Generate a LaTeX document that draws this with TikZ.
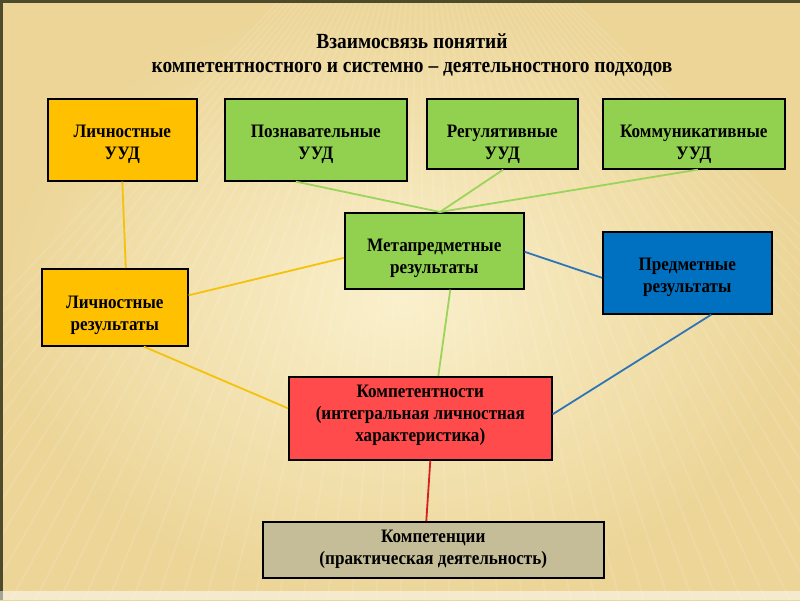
\documentclass[tikz,border=0pt]{standalone}
\usepackage{fontspec}
\setmainfont{Liberation Serif}[FakeStretch=0.9]
\usetikzlibrary{calc}
\begin{document}
\begin{tikzpicture}[x=1pt,y=-1pt,
  box/.style={draw=black,line width=1.6pt,minimum width=#1,inner sep=0pt,anchor=north west},
  txt/.style={align=center,inner sep=0pt,font=\fontsize{19}{22}\selectfont\bfseries},
  link/.style={line width=1.8pt}]
\definecolor{bgin}{HTML}{FAF0CC}
\definecolor{bgout}{HTML}{ECD597}
\definecolor{cyel}{HTML}{FFC000}
\definecolor{cgrn}{HTML}{92D050}
\definecolor{cblu}{HTML}{0070C0}
\definecolor{cred}{HTML}{FF4B4B}
\definecolor{ckha}{HTML}{C4BD97}
\definecolor{lyel}{HTML}{F4C20A}
\definecolor{lgrn}{HTML}{9BD45A}
\definecolor{lblu}{HTML}{2E75B6}
\definecolor{lred}{HTML}{D42020}
\definecolor{frame}{HTML}{4E4A2C}
\useasboundingbox (0,0) rectangle (800,600);
\shade[inner color=bgin,outer color=bgout] (0,0) rectangle (800,600);
\foreach \i in {0,...,60}{
  \draw[white,opacity=0.10,line width=2pt] (420,-150) -- ({-300+\i*25},620);
}
\fill[frame] (0,0) rectangle (800,3);
\fill[frame] (0,0) rectangle (2.5,600);
\fill[white,opacity=0.5] (0,591) rectangle (800,600);

\node (title) at (412,55) [align=center,font=\fontsize{21.6}{24}\selectfont\bfseries]
  {Взаимосвязь понятий\\компетентностного и системно – деятельностного подходов};

\node (luud) [box=149pt,minimum height=82pt,fill=cyel] at (47,98) {};
\node (puud) [box=182pt,minimum height=82pt,fill=cgrn] at (224,98) {};
\node (ruud) [box=151pt,minimum height=70pt,fill=cgrn] at (426,98) {};
\node (kuud) [box=182pt,minimum height=70pt,fill=cgrn] at (602,98) {};
\node (meta) [box=179pt,minimum height=76pt,fill=cgrn] at (344,212) {};
\node (pred) [box=169pt,minimum height=82pt,fill=cblu] at (602,231) {};
\node (lres) [box=146pt,minimum height=77pt,fill=cyel] at (41,268) {};
\node (komp) [box=263pt,minimum height=83pt,fill=cred] at (288,376) {};
\node (kmpc) [box=341pt,minimum height=56pt,fill=ckha] at (262,521) {};

\node (luudt) [txt] at ($(luud.center)+(0,5)$) {Личностные\\УУД};
\node (puudt) [txt] at ($(puud.center)+(0,5)$) {Познавательные\\УУД};
\node (ruudt) [txt] at ($(ruud.center)+(0,11)$) {Регулятивные\\УУД};
\node (kuudt) [txt] at ($(kuud.center)+(0,11)$) {Коммуникативные\\УУД};
\node (metat) [txt] at ($(meta.center)+(0,8)$) {Метапредметные\\результаты};
\node (predt) [txt] at ($(pred.center)+(0,5)$) {Предметные\\результаты};
\node (lrest) [txt] at ($(lres.center)+(0,8)$) {Личностные\\результаты};
\node (kompt) [txt] at ($(komp.center)+(0,-3)$) {Компетентности\\(интегральная личностная\\характеристика)};
\node (kmpct) [txt] at ($(kmpc.center)+(0,-1)$) {Компетенции\\(практическая деятельность)};

\coordinate (mtop) at (440,212);
\draw[link,lyel] ($(luud.south)+(0,0)$) -- ($(lres.north)+(11,0)$);
\draw[link,lgrn] ($(puud.south)+(-20,0)$) -- (mtop);
\draw[link,lgrn] ($(ruud.south)+(1,0)$) -- (mtop);
\draw[link,lgrn] ($(kuud.south)+(4,0)$) -- (mtop);
\draw[link,lyel] ($(meta.west)+(0,7)$) -- ($(lres.east)+(0,-12)$);
\draw[link,lblu] ($(meta.east)+(0,1)$) -- ($(pred.west)+(0,5)$);
\draw[link,lgrn] ($(meta.south)+(16,0)$) -- ($(komp.north)+(18,0)$);
\draw[link,lyel] ($(lres.south)+(29,0)$) -- ($(komp.west)+(0,-10)$);
\draw[link,lblu] ($(pred.south)+(24,0)$) -- ($(komp.east)+(0,-4)$);
\draw[link,lred] ($(komp.south)+(10,0)$) -- ($(kmpc.north)+(-7,0)$);
\end{tikzpicture}
\end{document}
